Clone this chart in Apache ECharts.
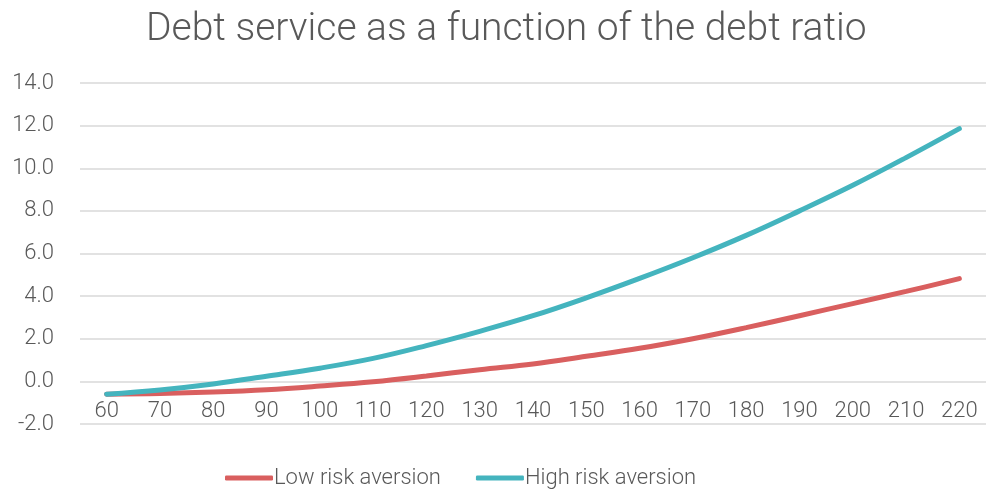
<!DOCTYPE html>
<html>
<head>
<meta charset="utf-8">
<script src="https://cdn.jsdelivr.net/npm/echarts@6/dist/echarts.min.js"></script>
<style>
  html, body { margin: 0; padding: 0; background: #fff; }
  #chart { width: 986px; height: 490px; }
</style>
</head>
<body>
<div id="chart"></div>
<script>
// Debt ratio (x) and debt service for the two risk-aversion scenarios
const debtRatio = ['60', '70', '80', '90', '100', '110', '120', '130', '140', '150', '160', '170', '180', '190', '200', '210', '220'];
const lowRiskAversion = [-0.6, -0.57, -0.5, -0.39, -0.22, -0.02, 0.25, 0.55, 0.82, 1.18, 1.55, 2.0, 2.52, 3.08, 3.65, 4.22, 4.82];
const highRiskAversion = [-0.6, -0.4, -0.12, 0.24, 0.62, 1.08, 1.68, 2.35, 3.08, 3.92, 4.83, 5.8, 6.85, 8.0, 9.2, 10.5, 11.86];
const yMin = -2, yMax = 14, yStep = 2;

const FONT = 'Roboto';
const TEXT = '#595959';
const GRID = '#d9d9d9';

const gridTop = 83, gridBottom = 66, chartH = 490;
const plotH = chartH - gridTop - gridBottom;
// the category axis sits on the zero line, so lift it up from the bottom edge
const zeroOffset = -plotH * (0 - yMin) / (yMax - yMin);

const chart = echarts.init(document.getElementById('chart'), null, { renderer: 'canvas' });
chart.setOption({
  animation: false,
  backgroundColor: '#ffffff',
  title: {
    text: 'Debt service as a function of the debt ratio',
    left: 141,
    top: 6,
    textStyle: { fontFamily: FONT, fontWeight: 300, fontSize: 39, color: TEXT }
  },
  legend: {
    top: 462,
    left: 220,
    itemWidth: 48,
    itemHeight: 5,
    itemGap: 35,
    icon: 'roundRect',
    textStyle: { fontFamily: FONT, fontWeight: 300, fontSize: 22, color: TEXT, padding: [0, 0, 0, -4] },
    data: ['Low risk aversion', 'High risk aversion']
  },
  grid: { left: 80, right: 0, top: gridTop, bottom: gridBottom, containLabel: false },
  xAxis: {
    type: 'category',
    data: debtRatio,
    boundaryGap: true,
    offset: zeroOffset,
    axisLine: { show: false, onZero: false },
    axisTick: { show: false },
    axisLabel: { fontFamily: FONT, fontWeight: 300, fontSize: 22, color: TEXT, margin: 19 }
  },
  yAxis: {
    type: 'value',
    min: yMin,
    max: yMax,
    interval: yStep,
    axisLine: { show: false },
    axisTick: { show: false },
    splitLine: { lineStyle: { color: GRID, width: 1.5 } },
    axisLabel: {
      fontFamily: FONT, fontWeight: 300, fontSize: 22, color: TEXT, margin: 26,
      formatter: v => v.toFixed(1)
    }
  },
  series: [
    {
      name: 'Low risk aversion',
      type: 'line',
      data: lowRiskAversion,
      smooth: 0.4,
      showSymbol: false,
      symbol: 'none',
      itemStyle: { color: '#d95f5f' },
      lineStyle: { color: '#d95f5f', width: 5, cap: 'round' }
    },
    {
      name: 'High risk aversion',
      type: 'line',
      data: highRiskAversion,
      smooth: 0.4,
      showSymbol: false,
      symbol: 'none',
      itemStyle: { color: '#44b4be' },
      lineStyle: { color: '#44b4be', width: 5, cap: 'round' }
    }
  ]
});
</script>
</body>
</html>
